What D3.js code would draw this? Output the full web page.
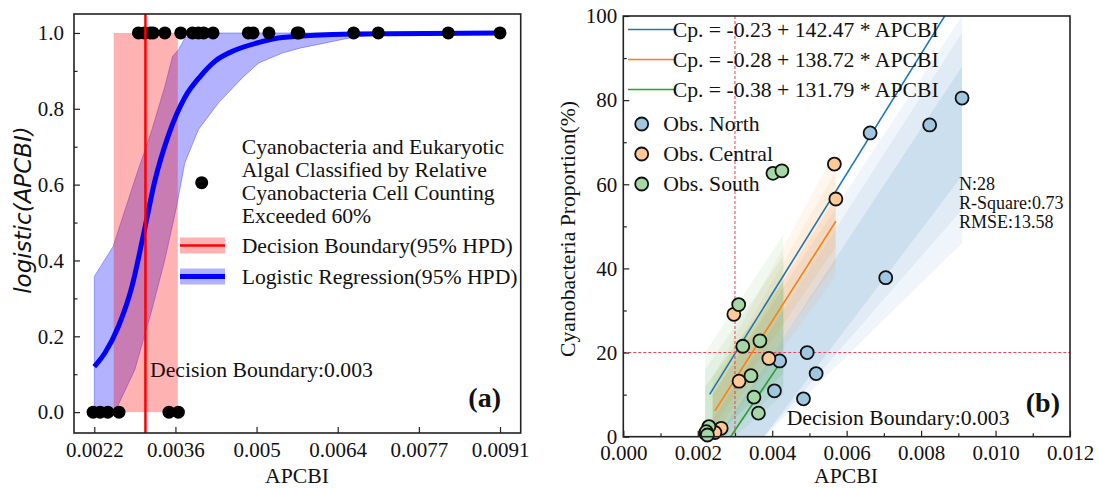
<!DOCTYPE html>
<html>
<head>
<meta charset="utf-8">
<script src="https://cdn.jsdelivr.net/npm/d3@7"></script>
<style>
  body { margin: 0; background: #fff; }
  svg text { font-family: "Liberation Serif", "Times New Roman", serif; fill: #111; }
</style>
</head>
<body>
<svg width="1099" height="488"></svg>
<script>
// ---- panel (a) data ----
var hitX  = [0.00295, 0.00305, 0.00315, 0.0032, 0.0034, 0.00367, 0.00387, 0.00397, 0.00406, 0.00422,
             0.00482, 0.0049, 0.00517, 0.00565, 0.00568, 0.00661, 0.00703, 0.00822, 0.0091];
var missX = [0.00218, 0.0023, 0.00243, 0.00262, 0.00347, 0.00363];

var curveX = [0.0022, 0.00238, 0.00261, 0.00284, 0.00303, 0.00323, 0.00346, 0.00374, 0.004, 0.00425, 0.0046, 0.005, 0.0054, 0.0066, 0.0091];
var curveP = [0.12, 0.156, 0.226, 0.331, 0.463, 0.61, 0.73, 0.83, 0.885, 0.925, 0.955, 0.975, 0.988, 0.997, 1.0];

var hpdUpX = [0.0022, 0.00252, 0.00289, 0.00318, 0.0034, 0.00353, 0.00363, 0.00374, 0.00391, 0.0091];
var hpdUpY = [0.358, 0.437, 0.613, 0.745, 0.859, 0.938, 0.956, 0.987, 1.0, 1.0];
var hpdLoX = [0.0022, 0.00255, 0.00289, 0.00318, 0.0034, 0.0036, 0.00374, 0.00397, 0.00431, 0.00472, 0.005, 0.0054, 0.0057, 0.00655, 0.007, 0.0091];
var hpdLoY = [0, 0, 0.112, 0.27, 0.402, 0.542, 0.657, 0.745, 0.815, 0.882, 0.921, 0.947, 0.96, 0.987, 0.995, 1.0];

var boundaryBand = [0.00253, 0.00362];
var boundary = 0.00307;

var xTicksA = [0.0022, 0.00358, 0.00496, 0.00634, 0.00772, 0.0091];
var xTickLabelsA = ["0.0022", "0.0036", "0.005", "0.0064", "0.0077", "0.0091"];
var yTicksA = [0, 0.2, 0.4, 0.6, 0.8, 1.0];
var yMinorA = [0.1, 0.3, 0.5, 0.7, 0.9];

// ---- panel (b) data ----
var northX = [0.0091, 0.00823, 0.00663, 0.00705, 0.00494, 0.00518, 0.0042, 0.00406, 0.00484, 0.00221];
var northY = [80.5, 74.1, 72.2, 37.8, 20.0, 15.0, 18.0, 10.9, 9.0, 0.8];
var centralX = [0.00567, 0.00571, 0.00297, 0.00391, 0.00311, 0.00263, 0.00246];
var centralY = [64.8, 56.5, 29.1, 18.6, 13.2, 2.0, 1.0];
var southX = [0.00402, 0.00426, 0.0031, 0.00321, 0.00367, 0.00343, 0.00351, 0.00363, 0.0023, 0.00223, 0.00226];
var southY = [62.6, 63.2, 31.4, 21.5, 22.8, 14.5, 9.4, 5.6, 2.4, 1.2, 0.4];

var fitLabels = ["Cp. = -0.23 + 142.47 * APCBI", "Cp. = -0.28 + 138.72 * APCBI", "Cp. = -0.38 + 131.79 * APCBI"];
var fitIntercept = [-0.23, -0.28, -0.38];
var fitSlope = [142.47, 138.72, 131.79];
var fitStart = [0.00232, 0.00246, 0.0022];
var fitEnd = [0.0091, 0.00571, 0.00425];

// posterior spread: x range, then [lo, hi] at each end, wide -> narrow
var bandXN = [0.0024, 0.0091];
var bandLayersN = [[[-12, 10], [46, 100]], [[-14, 4], [54, 96]], [[-16, -2], [62, 88]]];
var bandXC = [0.0024, 0.0057];
var bandLayersC = [[[-2, 14], [38, 68]], [[0, 12], [41, 63]], [[2, 10], [45, 57]]];
var bandXS = [0.0022, 0.0043];
var bandLayersS = [[[-6, 20], [10, 48]], [[-4, 16], [12, 43]], [[-2, 12], [15, 37]]];
var bandOpacity = [0.07, 0.07, 0.1];

var obsNames = ["Obs. North", "Obs. Central", "Obs. South"];
var statLines = ["N:28", "R-Square:0.73", "RMSE:13.58"];
var xTicksB = [0, 0.002, 0.004, 0.006, 0.008, 0.010, 0.012];
var xMinorB = [0.001, 0.003, 0.005, 0.007, 0.009, 0.011];
var yTicksB = [0, 20, 40, 60, 80, 100];
var yMinorB = [10, 30, 50, 70, 90];

var BLUE = "#1f77b4", ORANGE = "#ff7f0e", GREEN = "#2ca02c";
var FS = 21, FL = 21.7;

var svg = d3.select("svg");

function styleAxis(g, size) {
  g.select(".domain").remove();
  g.selectAll("line").attr("stroke", "#222").attr("stroke-width", 1.2);
  g.selectAll("text").attr("font-size", size).attr("fill", "#111");
}

// ================= panel (a) =================
var xA = d3.scaleLinear().domain([0.001855, 0.009452]).range([74, 520.7]);
var yA = d3.scaleLinear().domain([-0.055, 1.05]).range([433, 14]);

var gA = svg.append("g");

// logistic HPD band
var bandPts = hpdUpX.map((x, i) => [x, hpdUpY[i]])
  .concat(hpdLoX.map((x, i) => [x, hpdLoY[i]]).reverse());
gA.append("path")
  .attr("d", d3.line().x(d => xA(d[0])).y(d => yA(d[1]))(bandPts) + "Z")
  .attr("fill", "#0000ff").attr("fill-opacity", 0.3)
  .attr("stroke", "#0000ff").attr("stroke-opacity", 0.3);

// decision boundary HPD
gA.append("rect")
  .attr("x", xA(boundaryBand[0])).attr("width", xA(boundaryBand[1]) - xA(boundaryBand[0]))
  .attr("y", yA(1)).attr("height", yA(0) - yA(1))
  .attr("fill", "#ff0000").attr("fill-opacity", 0.3);

gA.append("path")
  .datum(curveX.map((x, i) => [x, curveP[i]]))
  .attr("d", d3.line().curve(d3.curveMonotoneX).x(d => xA(d[0])).y(d => yA(d[1])))
  .attr("fill", "none").attr("stroke", "#0000ff").attr("stroke-width", 5);

gA.selectAll(".hit").data(hitX).enter().append("circle")
  .attr("cx", d => xA(d)).attr("cy", yA(1)).attr("r", 6.5).attr("fill", "#000");
gA.selectAll(".miss").data(missX).enter().append("circle")
  .attr("cx", d => xA(d)).attr("cy", yA(0)).attr("r", 6.5).attr("fill", "#000");

gA.append("line")
  .attr("x1", xA(boundary)).attr("x2", xA(boundary))
  .attr("y1", 14).attr("y2", 433)
  .attr("stroke", "#ff0000").attr("stroke-width", 2.5);

// axes
var axA = gA.append("g").attr("transform", "translate(0,433)")
  .call(d3.axisBottom(xA).tickValues(xTicksA).tickFormat((d, i) => xTickLabelsA[i])
    .tickSizeInner(-6).tickSizeOuter(0).tickPadding(9));
styleAxis(axA, FS);
var ayA = gA.append("g").attr("transform", "translate(74,0)")
  .call(d3.axisLeft(yA).tickValues(yTicksA).tickFormat(d3.format(".1f"))
    .tickSizeInner(-6).tickSizeOuter(0).tickPadding(10));
styleAxis(ayA, FS);
var ayA2 = gA.append("g").attr("transform", "translate(74,0)")
  .call(d3.axisLeft(yA).tickValues(yMinorA).tickFormat("").tickSizeInner(-3.5).tickSizeOuter(0));
styleAxis(ayA2, FS);

gA.append("rect").attr("x", 74).attr("y", 14).attr("width", 446.7).attr("height", 419)
  .attr("fill", "none").attr("stroke", "#222").attr("stroke-width", 1.6);

// legend (a)
gA.append("circle").attr("cx", 201.7).attr("cy", 182.7).attr("r", 6.5).attr("fill", "#000");
var legA = ["Cyanobacteria and Eukaryotic", "Algal Classified by Relative",
            "Cyanobacteria Cell Counting", "Exceeded 60%"];
gA.selectAll(".legA").data(legA).enter().append("text")
  .attr("x", 241.7).attr("y", (d, i) => 153.5 + i * 23.3)
  .attr("font-size", FL).text(d => d);

gA.append("rect").attr("x", 180).attr("y", 237.5).attr("width", 45).attr("height", 16)
  .attr("fill", "#ff0000").attr("fill-opacity", 0.3);
gA.append("line").attr("x1", 180).attr("x2", 225).attr("y1", 245.5).attr("y2", 245.5)
  .attr("stroke", "#ff0000").attr("stroke-width", 2.5);
gA.append("text").attr("x", 241.7).attr("y", 253).attr("font-size", FL).text("Decision Boundary(95% HPD)");

gA.append("rect").attr("x", 180).attr("y", 268.5).attr("width", 45).attr("height", 16)
  .attr("fill", "#0000ff").attr("fill-opacity", 0.3);
gA.append("line").attr("x1", 180).attr("x2", 225).attr("y1", 276.5).attr("y2", 276.5)
  .attr("stroke", "#0000ff").attr("stroke-width", 5);
gA.append("text").attr("x", 241.7).attr("y", 284).attr("font-size", FL).text("Logistic Regression(95% HPD)");

gA.append("text").attr("x", 150).attr("y", 377).attr("font-size", FL).text("Decision Boundary:0.003");
gA.append("text").attr("x", 501).attr("y", 407).attr("text-anchor", "end")
  .attr("font-size", 28).attr("font-weight", "bold").text("(a)");

gA.append("text").attr("x", 297).attr("y", 483).attr("text-anchor", "middle").attr("font-size", FL).text("APCBI");
gA.append("text")
  .attr("transform", "translate(31,210) rotate(-90)")
  .attr("text-anchor", "middle")
  .style("font-family", "'DejaVu Sans', sans-serif").style("font-style", "italic")
  .attr("font-size", 23).text("logistic(APCBI)");

// ================= panel (b) =================
var xB = d3.scaleLinear().domain([0, 0.012]).range([623.3, 1070]);
var yB = d3.scaleLinear().domain([0, 100]).range([436.7, 16]);

var gB = svg.append("g");
svg.append("clipPath").attr("id", "clipB").append("rect")
  .attr("x", 623.3).attr("y", 16).attr("width", 446.7).attr("height", 420.7);
var plotB = gB.append("g").attr("clip-path", "url(#clipB)");

function band(xs, layers, color) {
  layers.forEach(function(ends, k) {
    var pts = [[xs[0], ends[0][0]], [xs[1], ends[1][0]], [xs[1], ends[1][1]], [xs[0], ends[0][1]]];
    plotB.append("path")
      .attr("d", d3.line().x(d => xB(d[0])).y(d => yB(d[1]))(pts) + "Z")
      .attr("fill", color).attr("fill-opacity", bandOpacity[k]);
  });
}
band(bandXN, bandLayersN, BLUE);
band(bandXC, bandLayersC, ORANGE);
band(bandXS, bandLayersS, GREEN);

var fitColors = [BLUE, ORANGE, GREEN];
fitIntercept.forEach(function(a, i) {
  var b = fitSlope[i];
  var pts = [fitStart[i], fitEnd[i]].map(x => [x, 100 * (a + b * x)]);
  plotB.append("path")
    .attr("d", d3.line().x(d => xB(d[0])).y(d => yB(d[1]))(pts))
    .attr("stroke", fitColors[i]).attr("stroke-width", 1.6).attr("fill", "none");
});

// decision boundary guides
plotB.append("line").attr("x1", xB(0.003)).attr("x2", xB(0.003)).attr("y1", 16).attr("y2", 436.7)
  .attr("stroke", "#e8404f").attr("stroke-width", 1).attr("stroke-dasharray", "3,2");
plotB.append("line").attr("x1", 623.3).attr("x2", 1070).attr("y1", yB(20)).attr("y2", yB(20))
  .attr("stroke", "#e8404f").attr("stroke-width", 1).attr("stroke-dasharray", "3,2");

var groups = [[northX, northY, BLUE], [centralX, centralY, ORANGE], [southX, southY, GREEN]];
groups.forEach(function(g) {
  var pts = g[0].map((x, i) => [x, g[1][i]]);
  gB.selectAll(null).data(pts).enter().append("circle")
    .attr("cx", d => xB(d[0])).attr("cy", d => yB(d[1])).attr("r", 6.5)
    .attr("fill", d3.interpolateRgb("#fff", g[2])(0.42))
    .attr("stroke", "#111").attr("stroke-width", 1.8);
});

// axes
var axB = gB.append("g").attr("transform", "translate(0,436.7)")
  .call(d3.axisBottom(xB).tickValues(xTicksB).tickFormat(d3.format(".3f"))
    .tickSizeInner(-6).tickSizeOuter(0).tickPadding(8));
styleAxis(axB, FS);
var axB2 = gB.append("g").attr("transform", "translate(0,436.7)")
  .call(d3.axisBottom(xB).tickValues(xMinorB).tickFormat("").tickSizeInner(-3.5).tickSizeOuter(0));
styleAxis(axB2, FS);
var ayB = gB.append("g").attr("transform", "translate(623.3,0)")
  .call(d3.axisLeft(yB).tickValues(yTicksB).tickFormat(d3.format("d"))
    .tickSizeInner(-6).tickSizeOuter(0).tickPadding(6));
styleAxis(ayB, FS);
var ayB2 = gB.append("g").attr("transform", "translate(623.3,0)")
  .call(d3.axisLeft(yB).tickValues(yMinorB).tickFormat("").tickSizeInner(-3.5).tickSizeOuter(0));
styleAxis(ayB2, FS);

gB.append("rect").attr("x", 623.3).attr("y", 16).attr("width", 446.7).attr("height", 420.7)
  .attr("fill", "none").attr("stroke", "#222").attr("stroke-width", 1.6);

// legend (b)
fitLabels.forEach(function(t, i) {
  var y = 29.5 + i * 30;
  gB.append("line").attr("x1", 628).attr("x2", 674).attr("y1", y).attr("y2", y)
    .attr("stroke", fitColors[i]).attr("stroke-width", 1.6);
  gB.append("text").attr("x", 672.7).attr("y", y + 7).attr("font-size", FL).text(t);
});
obsNames.forEach(function(t, i) {
  var y = 124 + i * 30;
  gB.append("circle").attr("cx", 641.7).attr("cy", y).attr("r", 6.5)
    .attr("fill", d3.interpolateRgb("#fff", fitColors[i])(0.42))
    .attr("stroke", "#111").attr("stroke-width", 1.8);
  gB.append("text").attr("x", 663.3).attr("y", y + 7).attr("font-size", FL).text(t);
});

statLines.forEach(function(t, i) {
  gB.append("text").attr("x", 959).attr("y", 189.5 + i * 19).attr("font-size", 18).text(t);
});

gB.append("text").attr("x", 786.7).attr("y", 425).attr("font-size", FL).text("Decision Boundary:0.003");
gB.append("text").attr("x", 1060).attr("y", 412).attr("text-anchor", "end")
  .attr("font-size", 28).attr("font-weight", "bold").text("(b)");

gB.append("text").attr("x", 846).attr("y", 483).attr("text-anchor", "middle").attr("font-size", FL).text("APCBI");
gB.append("text")
  .attr("transform", "translate(575,229) rotate(-90)")
  .attr("text-anchor", "middle").attr("font-size", FL)
  .text("Cyanobacteria Proportion(%)");
</script>
</body>
</html>
